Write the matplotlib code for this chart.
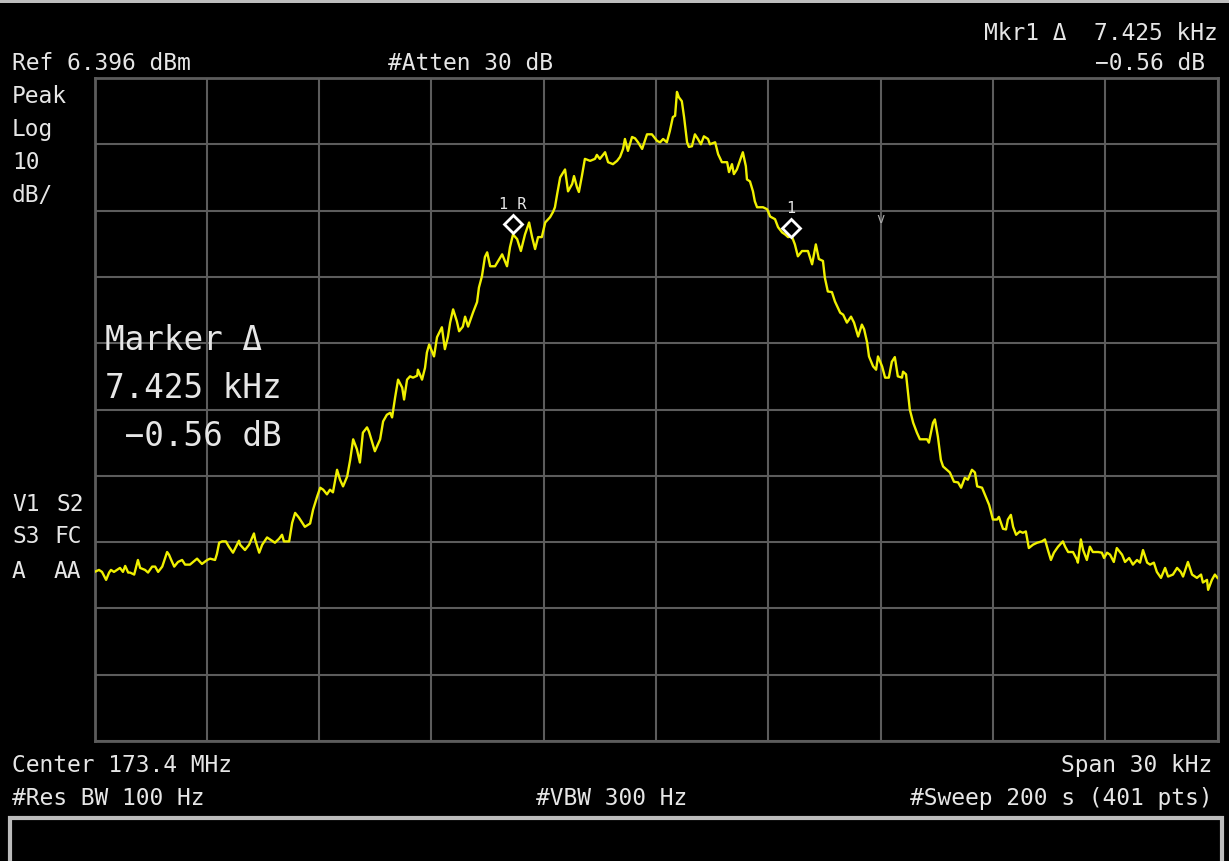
import matplotlib
matplotlib.use('Agg')
import matplotlib.pyplot as plt
from matplotlib import transforms
from matplotlib.patches import Rectangle
import numpy as np

# Analyzer settings shown on screen
ref_level = 6.396        # dBm, top graticule line
db_per_div = 10
center_mhz = 173.4
span_khz = 30
atten_db = 30
rbw_hz = 100
vbw_hz = 300
sweep_s = 200
sweep_pts = 401

# Trace: offset from center [kHz] and level [dBm]
freq_khz = [
    -15.00, -14.88, -14.80, -14.69, -14.61, -14.56, -14.48, -14.40, -14.32, -14.24,
    -14.18, -14.10, -14.05, -13.94, -13.84, -13.78, -13.65, -13.57, -13.46, -13.38,
    -13.30, -13.19, -13.06, -13.01, -12.95, -12.87, -12.77, -12.66, -12.58, -12.45,
    -12.26, -12.13, -11.99, -11.91, -11.78, -11.73, -11.67, -11.59, -11.49, -11.41,
    -11.30, -11.14, -11.11, -10.98, -10.87, -10.74, -10.71, -10.60, -10.52, -10.39,
    -10.31, -10.18, -10.07, -9.99, -9.94, -9.80, -9.72, -9.64, -9.54, -9.38,
    -9.24, -9.16, -9.05, -8.97, -8.89, -8.79, -8.71, -8.63, -8.52, -8.44,
    -8.36, -8.25, -8.17, -8.09, -7.99, -7.91, -7.83, -7.72, -7.67, -7.51,
    -7.37, -7.29, -7.19, -7.10, -7.05, -6.97, -6.89, -6.78, -6.73, -6.65,
    -6.57, -6.49, -6.38, -6.36, -6.25, -6.17, -6.12, -6.06, -5.93, -5.85,
    -5.72, -5.64, -5.56, -5.50, -5.42, -5.32, -5.26, -5.16, -5.10, -5.02,
    -4.89, -4.78, -4.73, -4.65, -4.57, -4.51, -4.43, -4.30, -4.11, -3.98,
    -3.90, -3.82, -3.71, -3.61, -3.50, -3.39, -3.31, -3.23, -3.15, -3.05,
    -2.96, -2.83, -2.75, -2.70, -2.64, -2.56, -2.43, -2.35, -2.24, -2.19,
    -2.11, -2.06, -1.98, -1.90, -1.76, -1.63, -1.58, -1.50, -1.36, -1.28,
    -1.15, -1.04, -0.96, -0.88, -0.83, -0.75, -0.64, -0.56, -0.48, -0.37,
    -0.24, -0.11, 0.03, 0.11, 0.19, 0.29, 0.37, 0.45, 0.51, 0.56,
    0.61, 0.69, 0.75, 0.83, 0.88, 0.96, 1.04, 1.12, 1.20, 1.28,
    1.39, 1.44, 1.58, 1.66, 1.76, 1.90, 1.95, 2.03, 2.08, 2.16,
    2.24, 2.32, 2.40, 2.43, 2.51, 2.59, 2.64, 2.70, 2.86, 2.97,
    3.05, 3.18, 3.26, 3.37, 3.45, 3.53, 3.63, 3.71, 3.79, 3.90,
    4.06, 4.17, 4.27, 4.35, 4.46, 4.51, 4.59, 4.70, 4.78, 4.92,
    5.00, 5.10, 5.21, 5.29, 5.40, 5.50, 5.56, 5.64, 5.69, 5.80,
    5.88, 5.93, 6.04, 6.12, 6.22, 6.30, 6.38, 6.46, 6.57, 6.60,
    6.68, 6.73, 6.78, 6.87, 6.97, 7.05, 7.24, 7.29, 7.40, 7.45,
    7.53, 7.61, 7.67, 7.77, 7.85, 7.96, 8.07, 8.15, 8.25, 8.33,
    8.44, 8.52, 8.58, 8.71, 8.84, 8.90, 9.00, 9.11, 9.16, 9.27,
    9.35, 9.40, 9.48, 9.54, 9.62, 9.72, 9.80, 9.88, 9.96, 10.07,
    10.18, 10.31, 10.39, 10.47, 10.55, 10.63, 10.74, 10.87, 10.93, 11.01,
    11.14, 11.25, 11.27, 11.35, 11.41, 11.51, 11.59, 11.67, 11.81, 11.91,
    11.97, 12.05, 12.13, 12.23, 12.31, 12.45, 12.53, 12.64, 12.74, 12.85,
    12.93, 13.01, 13.12, 13.20, 13.30, 13.38, 13.49, 13.60, 13.68, 13.81,
    13.92, 14.02, 14.08, 14.21, 14.32, 14.45, 14.56, 14.61, 14.72, 14.75,
    14.85, 14.93, 15.00,
]
level_dbm = [
    -68.1, -67.8, -68.1, -69.3, -68.2, -67.8, -68.1, -67.8, -67.5, -68.1,
    -67.2, -68.2, -68.2, -68.5, -66.3, -67.5, -67.8, -68.2, -67.3, -67.3,
    -68.1, -67.3, -65.1, -65.5, -66.3, -67.3, -66.6, -66.3, -67.0, -67.0,
    -66.1, -66.9, -66.3, -66.1, -66.3, -65.4, -63.7, -63.5, -63.5, -64.3,
    -65.2, -63.4, -64.0, -64.8, -64.0, -62.3, -63.2, -65.2, -64.0, -62.9,
    -63.2, -63.7, -63.1, -62.5, -63.5, -63.5, -60.7, -59.2, -59.9, -61.3,
    -60.8, -58.7, -56.7, -55.4, -55.7, -56.4, -55.7, -56.1, -52.7, -54.2,
    -55.2, -53.7, -51.2, -48.1, -49.6, -51.6, -47.1, -46.3, -46.9, -49.9,
    -48.1, -45.4, -44.4, -44.1, -44.8, -41.8, -39.1, -40.3, -42.1, -39.1,
    -38.6, -38.8, -38.5, -37.6, -39.1, -37.3, -35.0, -33.8, -35.6, -32.7,
    -31.2, -34.5, -32.7, -30.5, -28.5, -30.3, -31.8, -31.1, -29.6, -31.1,
    -29.0, -27.4, -25.2, -23.5, -20.6, -19.9, -22.0, -22.0, -20.2, -22.0,
    -19.1, -17.2, -17.9, -19.7, -17.2, -15.4, -17.6, -19.4, -17.6, -17.6,
    -15.4, -14.6, -13.8, -13.1, -11.1, -8.6, -7.4, -10.7, -9.6, -8.4,
    -10.1, -10.8, -8.4, -5.8, -6.1, -5.8, -5.2, -5.8, -4.8, -6.3,
    -6.6, -6.1, -5.5, -4.3, -2.8, -4.6, -2.5, -2.7, -3.3, -4.3,
    -2.1, -2.1, -3.1, -3.3, -2.8, -3.3, -1.6, 0.5, 0.7, 4.3,
    3.5, 2.9, 0.5, -3.3, -4.0, -3.9, -2.1, -2.8, -3.6, -2.4,
    -2.8, -3.6, -3.3, -5.1, -6.3, -6.3, -7.8, -6.6, -8.1, -7.4,
    -6.1, -4.8, -6.9, -8.9, -9.2, -10.7, -12.2, -13.1, -13.1, -13.4,
    -14.5, -14.9, -16.1, -16.9, -17.2, -17.6, -17.5, -18.7, -20.5, -19.7,
    -19.7, -21.7, -18.7, -20.9, -21.2, -23.7, -25.8, -25.9, -27.3, -29.0,
    -29.3, -30.5, -29.6, -30.5, -32.6, -30.8, -31.5, -33.5, -35.6, -37.1,
    -37.6, -35.6, -37.1, -38.8, -38.8, -36.4, -35.7, -38.6, -38.8, -37.9,
    -38.3, -41.0, -43.6, -45.6, -47.1, -48.1, -48.1, -48.6, -45.6, -45.1,
    -47.7, -51.2, -52.2, -52.7, -53.1, -54.5, -54.6, -55.4, -53.9, -54.2,
    -52.7, -53.1, -55.2, -55.4, -57.2, -58.0, -60.2, -60.2, -59.8, -61.6,
    -61.7, -60.2, -59.5, -61.3, -62.5, -62.0, -62.2, -62.0, -64.5, -64.0,
    -63.7, -63.5, -63.2, -64.8, -66.3, -65.2, -64.3, -63.5, -64.3, -65.1,
    -65.1, -66.3, -66.7, -63.2, -64.8, -66.3, -64.3, -65.1, -65.1, -65.2,
    -66.0, -65.2, -65.5, -66.6, -64.5, -65.5, -66.6, -66.0, -67.0, -66.3,
    -66.7, -64.8, -66.7, -67.0, -66.7, -68.1, -69.0, -67.5, -68.8, -68.5,
    -67.5, -68.1, -68.8, -66.6, -68.5, -69.0, -68.5, -69.7, -69.3, -70.8,
    -69.3, -68.5, -69.0,
]

# Delta marker: reference marker 1R and marker 1
mkr_ref_khz = -3.82
mkr_ref_dbm = -17.2
mkr_delta_khz = 7.425
mkr_delta_db = -0.56

# small display flag near the top of the trace area
flag_khz = 6.0
flag_dbm = -14.9

W, H = 1229, 861
TXT = '#e6e6e6'
GRID = '#5c5c5c'
TRACE = '#f0f000'
MONO = ['DejaVu Sans Mono', 'DejaVu Sans']

fig = plt.figure(figsize=(W / 100, H / 100), dpi=100, facecolor='black')

# graticule area in pixels: left, top, right, bottom
gl, gt, gr, gb = 94.5, 78.0, 1217.5, 741.0
ax = fig.add_axes([gl / W, 1 - gb / H, (gr - gl) / W, (gb - gt) / H])
ax.set_facecolor('black')

half = span_khz / 2
bottom = ref_level - 10 * db_per_div
ax.set_xlim(-half, half)
ax.set_ylim(bottom, ref_level)
ax.set_xticks(np.linspace(-half, half, 11))
ax.set_yticks(np.linspace(bottom, ref_level, 11))
ax.tick_params(length=0, labelbottom=False, labelleft=False)
ax.grid(True, color=GRID, linewidth=1.5)
for sp in ax.spines.values():
    sp.set_color(GRID)
    sp.set_linewidth(2.0)

ax.plot(freq_khz, level_dbm, color=TRACE, linewidth=1.7, zorder=3)

# marker diamonds sit just above the trace point
lift = transforms.offset_copy(ax.transData, fig=fig, x=0, y=10, units='dots')
mkr1_khz = mkr_ref_khz + mkr_delta_khz
mkr1_dbm = mkr_ref_dbm + mkr_delta_db
ax.plot([mkr_ref_khz, mkr1_khz], [mkr_ref_dbm, mkr1_dbm], linestyle='none',
        marker='D', markersize=9, markerfacecolor='black',
        markeredgecolor='white', markeredgewidth=2.0, transform=lift, zorder=4)
lbl = transforms.offset_copy(ax.transData, fig=fig, x=0, y=25, units='dots')
ax.text(mkr_ref_khz, mkr_ref_dbm, '1 R', transform=lbl, ha='center',
        va='baseline', color=TXT, fontsize=11, family=MONO, zorder=4)
ax.text(mkr1_khz, mkr1_dbm, '1', transform=lbl, ha='center',
        va='baseline', color=TXT, fontsize=11, family=MONO, zorder=4)
ax.text(flag_khz, flag_dbm, 'v', ha='center', va='center', color='#a8a8a8',
        fontsize=10, family=MONO, zorder=4)


def put(x, y, s, size=16.5, ha='left'):
    fig.text(x / W, 1 - y / H, s, ha=ha, va='baseline', color=TXT,
             fontsize=size, family=MONO)


def fmt_db(v):
    return ('%.2f dB' % v).replace('-', '\u2212')


# top annotation lines
put(1218, 40, 'Mkr1 \u0394  %.3f kHz' % mkr_delta_khz, ha='right')
put(1205, 70, fmt_db(mkr_delta_db), ha='right')
put(12, 70, 'Ref %.3f dBm' % ref_level)
put(388, 70, '#Atten %d dB' % atten_db)

# left column
put(12, 103, 'Peak')
put(12, 136, 'Log')
put(12, 169, '%d' % db_per_div)
put(12, 202, 'dB/')
put(12, 511, 'V1')
put(56, 511, 'S2')
put(12, 543, 'S3')
put(54, 543, 'FC')
put(12, 578, 'A')
put(54, 578, 'AA')

# large marker readout
put(105, 350, 'Marker \u0394', size=23.5)
put(105, 398, '%.3f kHz' % mkr_delta_khz, size=23.5)
put(105, 446, ' ' + fmt_db(mkr_delta_db), size=23.5)

# bottom annotation lines
put(12, 772, 'Center %.1f MHz' % center_mhz)
put(1212, 772, 'Span %d kHz' % span_khz, ha='right')
put(12, 805, '#Res BW %d Hz' % rbw_hz)
put(536, 805, '#VBW %d Hz' % vbw_hz)
put(1213, 805, '#Sweep %d s (%d pts)' % (sweep_s, sweep_pts), ha='right')

# title strip at the top and empty message box at the bottom
fig.patches.append(Rectangle((0, 1 - 3 / H), 1, 3 / H, transform=fig.transFigure,
                             facecolor='#bdbdbd', edgecolor='none'))
fig.patches.append(Rectangle((10 / W, -0.01), 1212 / W, (861 - 818) / H + 0.01,
                             transform=fig.transFigure, facecolor='black',
                             edgecolor='#bcbcbc', linewidth=3))

fig.savefig('out.png', dpi=100, facecolor='black')
